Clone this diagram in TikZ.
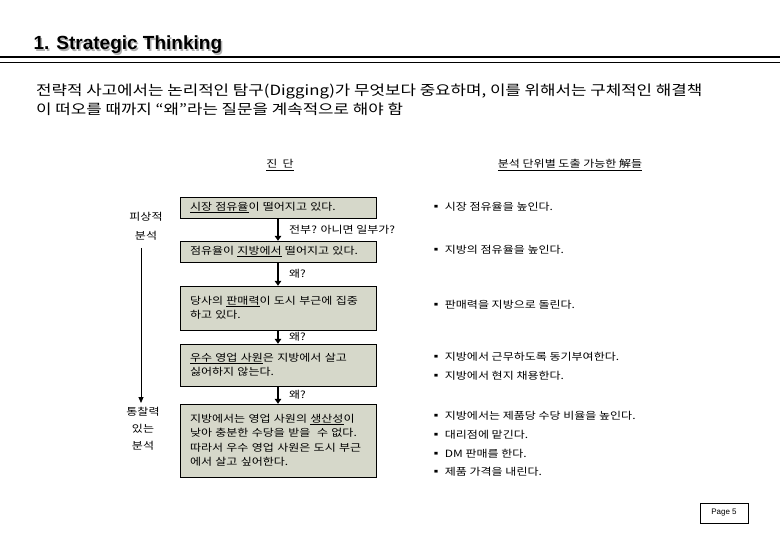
\documentclass[tikz,border=0pt]{standalone}
\usepackage{fontspec}
\setmainfont{Liberation Sans}
\newfontfamily\kr[FakeStretch=1.2]{Noto Sans CJK KR}
\usetikzlibrary{arrows.meta}
\definecolor{boxfill}{RGB}{214,216,202}
\begin{document}
\begin{tikzpicture}[x=1pt,y=-1pt,
  diag/.style={draw=black,fill=boxfill,minimum width=196pt,text width=176pt,align=left,inner xsep=10pt,inner ysep=0pt,font=\kr\fontsize{10}{14.5}\selectfont},
  lab/.style={font=\kr\fontsize{10}{12}\selectfont,anchor=west,inner sep=0pt},
  side/.style={font=\kr\fontsize{10}{12}\selectfont,inner sep=0pt},
  dig/.style={line width=2.4pt,-{Triangle[length=5pt,width=6.5pt]}}]
\useasboundingbox (0,0) rectangle (780,540);
\node[anchor=west,font=\bfseries\fontsize{19}{21}\selectfont,text=gray!60] (tsh) at (31.5,46.5) {1. Strategic Thinking};
\node[anchor=west,font=\bfseries\fontsize{19}{21}\selectfont] (t) at (30,45) {1. Strategic Thinking};
\draw[line width=2pt] (0,57) -- (780,57);
\draw[line width=0.7pt] (0,62) -- (780,62);
\node[anchor=north west,align=left,inner sep=0pt,font=\kr\fontsize{14}{19}\selectfont] (intro) at (36,84) {전략적 사고에서는 논리적인 탐구(Digging)가 무엇보다 중요하며, 이를 위해서는 구체적인 해결책\\이 떠오를 때까지 “왜”라는 질문을 계속적으로 해야 함};
\node[side] (h1) at (280,165) {\underline{진\ \ 단}};
\node[side] (h2) at (570,165) {\underline{분석 단위별 도출 가능한 解들}};
\node[diag,minimum height=21pt] (b1) at (278,207.5) {\underline{시장 점유율}이 떨어지고 있다.};
\node[diag,minimum height=21pt] (b2) at (278,251.5) {점유율이 \underline{지방에서} 떨어지고 있다.};
\node[diag,minimum height=44pt] (b3) at (278,308) {당사의 \underline{판매력}이 도시 부근에 집중\\하고 있다.};
\node[diag,minimum height=42pt] (b4) at (278,365) {\underline{우수 영업 사원}은 지방에서 살고\\싫어하지 않는다.};
\node[diag,minimum height=73pt] (b5) at (278,440.5) {지방에서는 영업 사원의 \underline{생산성}이\\낮아 충분한 수당을 받을 \ 수 없다.\\따라서 우수 영업 사원은 도시 부근\\에서 살고 싶어한다.};
\draw[dig] (b1) -- (b2) node[midway,lab,xshift=10pt] {전부? 아니면 일부가?};
\draw[dig] (b2) -- (b3) node[midway,lab,xshift=10pt] {왜?};
\draw[dig] (b3) -- (b4) node[midway,lab,xshift=10pt] {왜?};
\draw[dig] (b4) -- (b5) node[midway,lab,xshift=10pt] {왜?};
\node[side,align=center,font=\kr\fontsize{10}{19}\selectfont] (s1) at (146,226) {피상적\\분석};
\node[side,align=center,font=\kr\fontsize{10}{17}\selectfont] (s2) at (143,429) {통찰력\\있는\\분석};
\draw[line width=0.8pt,-{Triangle[length=6pt,width=5pt]}] (141,248) coordinate (a0) -- (141,403) coordinate (a1);
\begin{scope}[every node/.style={lab}]
\node (r1) at (430,207) {▪ 시장 점유율을 높인다.};
\node (r2) at (430,250) {▪ 지방의 점유율을 높인다.};
\node (r3) at (430,305) {▪ 판매력을 지방으로 돌린다.};
\node (r4) at (430,357) {▪ 지방에서 근무하도록 동기부여한다.};
\node (r5) at (430,376) {▪ 지방에서 현지 채용한다.};
\node (r6) at (430,416) {▪ 지방에서는 제품당 수당 비율을 높인다.};
\node (r7) at (430,435) {▪ 대리점에 맡긴다.};
\node (r8) at (430,454) {▪ DM 판매를 한다.};
\node (r9) at (430,472) {▪ 제품 가격을 내린다.};
\end{scope}
\node[draw,line width=0.8pt,minimum width=48pt,minimum height=20pt,font=\fontsize{8}{10}\selectfont] (pg) at (724,513) {Page 5};
\end{tikzpicture}
\end{document}
